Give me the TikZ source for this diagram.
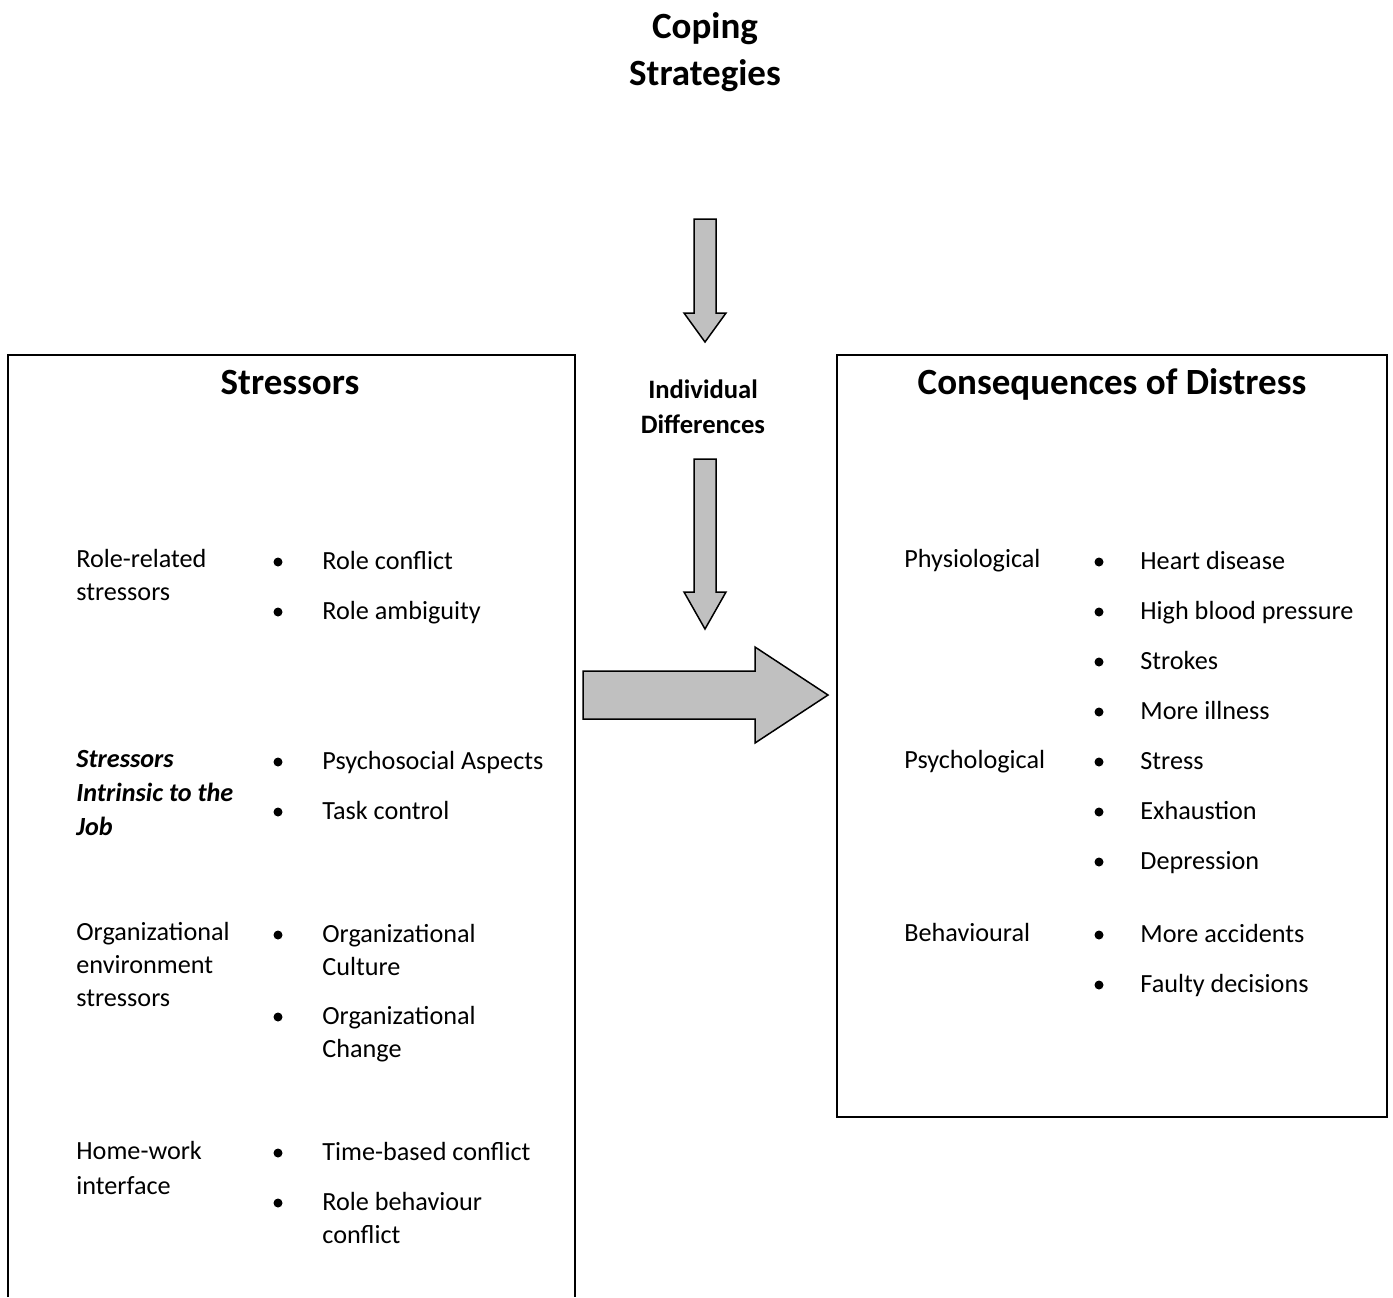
\documentclass[tikz,border=0pt]{standalone}
\usepackage{fontspec}
\setmainfont{Carlito}
\definecolor{arrowgray}{RGB}{192,192,192}

\begin{document}
\begin{tikzpicture}[x=0.5pt, y=-0.5pt,
    body/.style={font=\fontsize{13.1}{16.5}\selectfont, inner sep=0pt, align=left, anchor=base west},
    heading/.style={font=\fontsize{18.5}{23.5}\selectfont\bfseries, inner sep=0pt, align=center, anchor=base},
    blockarrow/.style={draw, line width=0.75pt, fill=arrowgray, line join=miter},
    frame/.style={line width=1pt},
    bul/.style={circle, fill, inner sep=0pt, minimum size=4.5pt}]

      \useasboundingbox (0,0) rectangle (1393,1297) ;

      % multi-line nodes sit on the baseline of their last line
      \node [heading] (coping) at (705,85) {Coping\\Strategies} ;
      \node [heading] (stressors) at (290,394) {Stressors} ;
      \node [heading] (distress) at (1112,394) {Consequences of Distress} ;
      \node [heading, font=\fontsize{13.3}{17.5}\selectfont\bfseries] (indiv) at (703,433) {Individual\\Differences} ;

      \draw [frame] (8,1297) -- (8,355) -- (575,355) -- (575,1297) ;
      \draw [frame] (837,355) rectangle (1387,1117) ;

      \draw [blockarrow] (694,219) -- (716,219) -- (716,313) -- (726,313) -- (705,342) -- (684,313) -- (694,313) -- cycle ;
      \draw [blockarrow] (694,459) -- (716,459) -- (716,592) -- (726,592) -- (705,629) -- (684,592) -- (694,592) -- cycle ;
      \draw [blockarrow] (583,671) -- (755,671) -- (755,647) -- (828,695) -- (755,743) -- (755,719) -- (583,719) -- cycle ;

      % stressors
      \node [body] (rolelbl) at (76,600) {Role-related\\stressors} ;
      \node [body, font=\fontsize{13.1}{17}\selectfont\bfseries\itshape] (joblbl) at (76,835) {Stressors\\Intrinsic to the\\Job} ;
      \node [body] (orglbl) at (76,1006) {Organizational\\environment\\stressors} ;
      \node [body, font=\fontsize{13.1}{17.5}\selectfont] (homelbl) at (76,1194) {Home-work\\interface} ;

      \node [body] (roleconf) at (322,569) {Role conflict} ;
      \node [body] (roleamb) at (322,619) {Role ambiguity} ;
      \node [body] (psychsoc) at (322,769) {Psychosocial Aspects} ;
      \node [body] (taskctrl) at (322,819) {Task control} ;
      \node [body] (orgcult) at (322,975) {Organizational\\Culture} ;
      \node [body] (orgchange) at (322,1057) {Organizational\\Change} ;
      \node [body] (timeconf) at (322,1160) {Time-based conflict} ;
      \node [body] (behconf) at (322,1243) {Role behaviour\\conflict} ;

      \foreach \y in {562,612,762,812,935,1017,1153,1203}
        \node [bul] at (278,\y) {} ;

      % consequences
      \node [body] (physlbl) at (904,567) {Physiological} ;
      \node [body] (psylbl) at (904,768) {Psychological} ;
      \node [body] (behlbl) at (904,941) {Behavioural} ;

      \node [body] (heart) at (1140,569) {Heart disease} ;
      \node [body] (bloodp) at (1140,619) {High blood pressure} ;
      \node [body] (strokes) at (1140,669) {Strokes} ;
      \node [body] (illness) at (1140,719) {More illness} ;
      \node [body] (stress) at (1140,769) {Stress} ;
      \node [body] (exhaust) at (1140,819) {Exhaustion} ;
      \node [body] (depress) at (1140,869) {Depression} ;
      \node [body] (accid) at (1140,942) {More accidents} ;
      \node [body] (faulty) at (1140,992) {Faulty decisions} ;

      \foreach \y in {562,612,662,712,762,812,862,935,985}
        \node [bul] at (1099,\y) {} ;
\end{tikzpicture}
\end{document}
